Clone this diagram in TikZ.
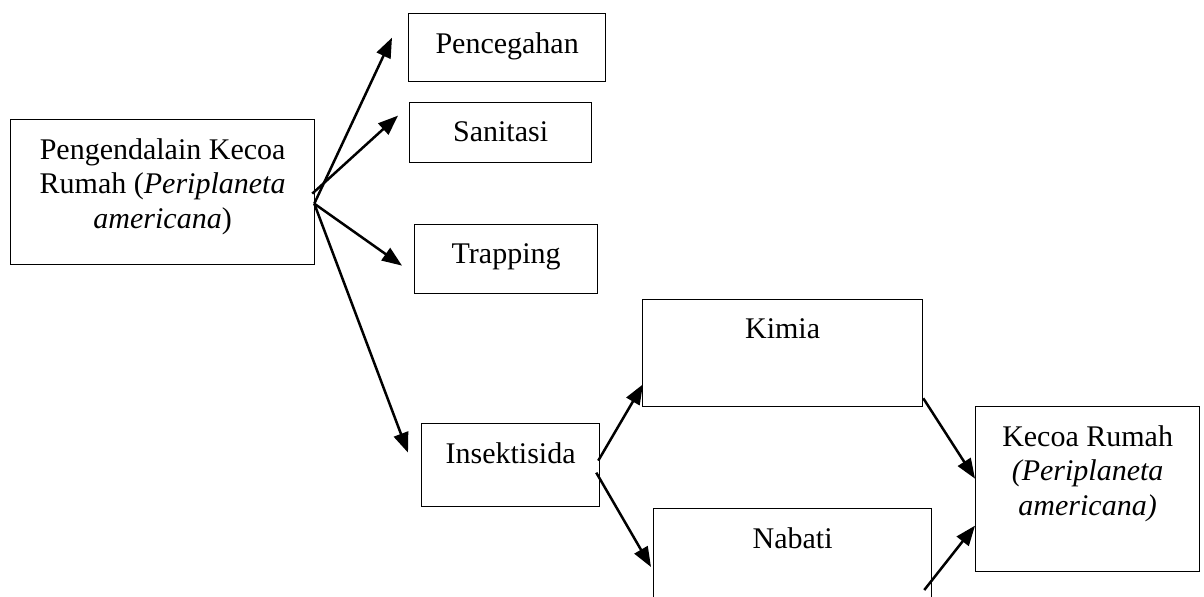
\documentclass[tikz,border=0pt]{standalone}
\usepackage{fontspec}
\setmainfont{Liberation Serif}
\usetikzlibrary{arrows.meta}

\begin{document}
\begin{tikzpicture}[x=0.4pt,y=-0.4pt,
  box/.style={draw,line width=0.5pt,anchor=north west,inner sep=0pt},
  lbl/.style={anchor=north,yshift=-7.6pt,inner sep=0pt,align=center,
    font=\fontsize{12}{13.8}\selectfont},
  arr/.style={line width=1pt,-{Triangle[length=8pt,width=6pt]}}]
\useasboundingbox (0,0) rectangle (1204,596);

\node[box,minimum width=121.6pt,minimum height=58pt,
  label={[lbl]north:Pengendalain Kecoa\\Rumah (\textit{Periplaneta}\\\textit{americana})}]
  (main) at (10,119) {};
\node[box,minimum width=78.8pt,minimum height=27.2pt,
  label={[lbl]north:Pencegahan}] (pen) at (408,13) {};
\node[box,minimum width=72.8pt,minimum height=24pt,
  label={[lbl]north:Sanitasi}] (san) at (409,102) {};
\node[box,minimum width=73.2pt,minimum height=27.6pt,
  label={[lbl]north:Trapping}] (trap) at (414,224) {};
\node[box,minimum width=71.2pt,minimum height=33.2pt,
  label={[lbl]north:Insektisida}] (ins) at (421,423) {};
\node[box,minimum width=112pt,minimum height=42.8pt,
  label={[lbl]north:Kimia}] (kim) at (642,299) {};
\node[box,minimum width=111.2pt,minimum height=42.8pt,
  label={[lbl]north:Nabati}] (nab) at (653,508) {};
\node[box,minimum width=89.6pt,minimum height=66pt,
  label={[lbl]north:Kecoa Rumah\\\textit{(Periplaneta}\\\textit{americana)}}]
  (kec) at (975,406) {};

\draw[arr] ([shift={(-1,11.5)}]main.east) -- ([shift={(-16,-10)}]pen.west);
\draw[arr] ([shift={(-3,1.5)}]main.east) -- ([shift={(-11,-17)}]san.west);
\draw[arr] ([shift={(-1,11.5)}]main.east) -- ([shift={(-12,6.5)}]trap.west);
\draw[arr] ([shift={(-1,11.5)}]main.east) -- ([shift={(-13,-12.5)}]ins.west);

\draw[arr] ([shift={(-2,-4.5)}]ins.east) -- ([shift={(1,-23)}]kim.south west);
\draw[arr] ([shift={(-4,7.5)}]ins.east) -- ([shift={(-2,59)}]nab.north west);

\draw[arr] ([shift={(0,-9)}]kim.south east) -- ([shift={(0,-10.5)}]kec.west);
\draw[arr] ([shift={(-8,82)}]nab.north east) -- ([shift={(0,36.5)}]kec.west);
\end{tikzpicture}
\end{document}
